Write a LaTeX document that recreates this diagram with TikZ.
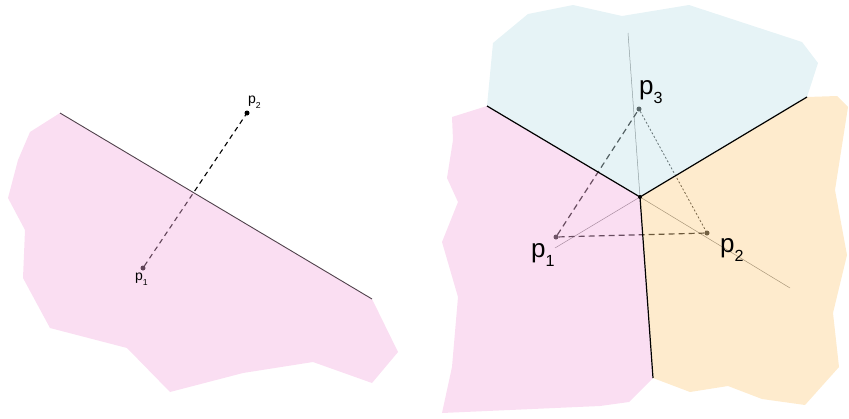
\documentclass[tikz,border=0pt]{standalone}
\usepackage{fontspec}
\setmainfont{Liberation Sans}
\definecolor{pinkbase}{RGB}{242,172,222}
\definecolor{bluebase}{RGB}{192,225,232}
\definecolor{orangebase}{RGB}{252,205,130}
\newcommand{\plab}[1]{p\raisebox{-0.36em}{\scalebox{0.62}{#1}}}
\tikzset{
  region/.style={fill opacity=0.4, draw=none},
  dotpt/.style={circle, fill=#1, inner sep=0pt, minimum size=5pt},
  thinline/.style={draw=black!55, line width=0.5pt},
  vedge/.style={draw=black, line width=1.2pt},
  smalllab/.style={font=\fontsize{14}{14}\selectfont, inner sep=0pt, anchor=base west},
  biglab/.style={font=\fontsize{26}{26}\selectfont, inner sep=0pt, anchor=base west},
}
\begin{document}
\begin{tikzpicture}[x=1pt,y=-1pt]
\useasboundingbox (0,0) rectangle (849,418);
% ---------- left picture ----------
\node[dotpt=black] (lp1) at (143,268) {};
\node[dotpt=black] (lp2) at (247,113) {};
\draw[black, line width=1.1pt, dash pattern=on 5pt off 4pt] (lp1) -- (lp2);
\fill[pinkbase, region] (60,113) -- (30,132) -- (18,160) -- (8,198) -- (25,230) -- (23,278)
  -- (50,328) -- (127,348) -- (170,392) -- (243,373) -- (313,362) -- (372,383) -- (398,352)
  -- (372,299) -- cycle;
\coordinate (la) at (60,113);
\coordinate (lb) at (372,299);
\draw[draw={rgb,255:red,80;green,66;blue,76}, line width=0.9pt] (la) -- (lb);
\node[smalllab] (lp2t) at (248,103.5) {\plab{2}};
\node[smalllab] (lp1t) at (135,280.5) {\plab{1}};
% ---------- right picture ----------
\coordinate (c) at (640,197);
\coordinate (eA) at (487,106);
\coordinate (eB) at (807,97);
\coordinate (eC) at (653,378);
\coordinate (tTop) at (628,33);
\coordinate (tLL) at (555,248);
\coordinate (tLR) at (790,288);
\node[dotpt=black!90] (p1) at (556,237) {};
\node[dotpt=black!90] (p2) at (707,233) {};
\node[dotpt=black!90] (p3) at (639,109) {};
\draw[thinline] (tTop) -- (c);
\draw[thinline] (tLL) -- (c);
\draw[thinline] (c) -- (tLR);
\draw[black!95, line width=1.2pt, dash pattern=on 6pt off 4pt] (p1) -- (p3);
\draw[black!95, line width=1.2pt, dash pattern=on 6pt off 4pt] (p1) -- (p2);
\draw[black!85, line width=0.8pt, dash pattern=on 2pt off 2pt] (p3) -- (p2);
% regions
\fill[bluebase, region] (eA) -- (493,43) -- (528,14) -- (573,5) -- (622,16) -- (689,5)
  -- (802,42) -- (818,63) -- (eB) -- (c) -- cycle;
\fill[orangebase, region] (eB) -- (837,96) -- (848,107) -- (835,190) -- (847,255)
  -- (833,313) -- (839,367) -- (805,405) -- (762,399) -- (728,386) -- (690,392)
  -- (eC) -- (c) -- cycle;
\fill[pinkbase, region] (eA) -- (c) -- (eC) -- (629,402) -- (600,406) -- (442,413)
  -- (452,367) -- (458,297) -- (442,242) -- (458,202) -- (447,178) -- (453,140)
  -- (452,117) -- cycle;
\draw[vedge] (eA) -- (c);
\draw[vedge] (eB) -- (c);
\draw[vedge] (c) -- (eC);
\fill[black] (c) circle (2pt);
\node[biglab] (p3t) at (639,94) {\plab{3}};
\node[biglab] (p1t) at (531,257) {\plab{1}};
\node[biglab] (p2t) at (720,252) {\plab{2}};
\end{tikzpicture}
\end{document}
